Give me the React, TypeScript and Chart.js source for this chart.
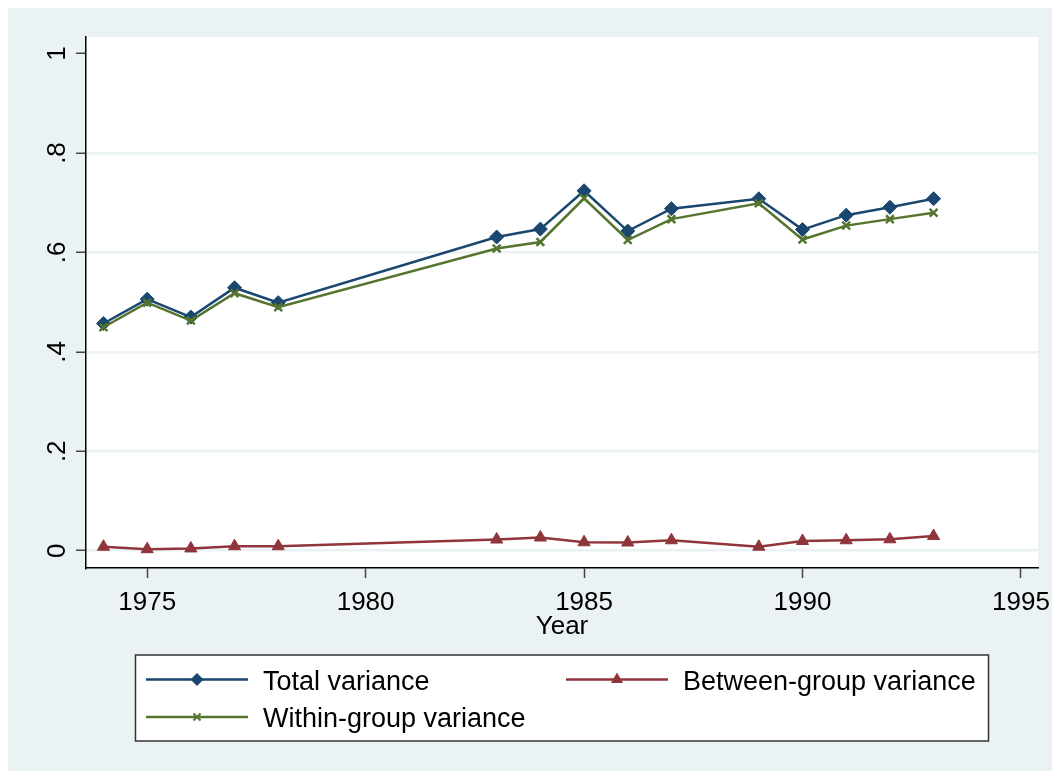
import React, { useEffect, useRef } from 'react';
import { Chart, registerables } from 'chart.js';

Chart.register(...registerables);

const YEARS = [1974, 1975, 1976, 1977, 1978, 1983, 1984, 1985, 1986, 1987, 1989, 1990, 1991, 1992, 1993];
const TOTAL = [0.457, 0.506, 0.470, 0.529, 0.499, 0.631, 0.647, 0.724, 0.643, 0.688, 0.708, 0.646, 0.675, 0.691, 0.708];
const BETWEEN = [0.008, 0.003, 0.0045, 0.009, 0.009, 0.0225, 0.0265, 0.017, 0.0165, 0.021, 0.008, 0.0195, 0.021, 0.023, 0.0295];
const WITHIN = [0.4495, 0.499, 0.463, 0.518, 0.490, 0.608, 0.621, 0.709, 0.625, 0.667, 0.699, 0.626, 0.654, 0.667, 0.680];

const X_TICKS = [1975, 1980, 1985, 1990, 1995];
const Y_TICKS = [0, 0.2, 0.4, 0.6, 0.8, 1];
const Y_TICK_LABELS = ['0', '.2', '.4', '.6', '.8', '1'];
const X_TITLE = 'Year';
const SERIES_LABELS = ['Total variance', 'Between-group variance', 'Within-group variance'];

const BLUE = '#1a476f';
const RED = '#90353b';
const GREEN = '#55752f';
const BG = '#eaf2f3';
const GRID = '#eaf2f3';
const FONT = '"Liberation Sans", Arial, Helvetica, sans-serif';
const W = 1060;
const H = 771;

function drawMarker(ctx: CanvasRenderingContext2D, style: string, x: number, y: number, r: number, color: string) {
  ctx.save();
  ctx.fillStyle = color;
  ctx.strokeStyle = color;
  ctx.beginPath();
  if (style === 'diamond') {
    ctx.moveTo(x, y - r);
    ctx.lineTo(x + r, y);
    ctx.lineTo(x, y + r);
    ctx.lineTo(x - r, y);
    ctx.closePath();
    ctx.fill();
  } else if (style === 'triangle') {
    ctx.moveTo(x, y - r);
    ctx.lineTo(x + r * 0.87, y + r * 0.5);
    ctx.lineTo(x - r * 0.87, y + r * 0.5);
    ctx.closePath();
    ctx.fill();
  } else {
    ctx.lineWidth = 2;
    const d = r * 0.707;
    ctx.moveTo(x - d, y - d);
    ctx.lineTo(x + d, y + d);
    ctx.moveTo(x + d, y - d);
    ctx.lineTo(x - d, y + d);
    ctx.stroke();
  }
  ctx.restore();
}

const customPlugin = {
  id: 'stataDecor',
  beforeDraw(chart: any) {
    const { ctx, chartArea } = chart;
    ctx.save();
    ctx.fillStyle = BG;
    ctx.fillRect(0, 0, chart.width, chart.height);
    ctx.fillStyle = '#ffffff';
    ctx.fillRect(chartArea.left, chartArea.top, chartArea.right - chartArea.left, chartArea.bottom - chartArea.top);
    ctx.restore();
  },
  afterDraw(chart: any) {
    const { ctx, chartArea } = chart;
    const xs = chart.scales.x;
    const ys = chart.scales.y;
    ctx.save();
    ctx.fillStyle = '#000';
    ctx.font = `26px ${FONT}`;
    // x tick labels
    ctx.textAlign = 'center';
    ctx.textBaseline = 'alphabetic';
    X_TICKS.forEach((v) => {
      ctx.fillText(String(v), xs.getPixelForValue(v), 601.5);
    });
    // x title
    ctx.fillText(X_TITLE, (chartArea.left + chartArea.right) / 2, 625.5);
    // y tick labels rotated
    Y_TICKS.forEach((v, i) => {
      ctx.save();
      ctx.translate(57, ys.getPixelForValue(v));
      ctx.rotate(-Math.PI / 2);
      ctx.textAlign = 'center';
      ctx.fillText(Y_TICK_LABELS[i], 0, 0);
      ctx.restore();
    });
    // legend
    const bx = 127.5, by = 647, bw = 853, bh = 86;
    ctx.fillStyle = '#ffffff';
    ctx.fillRect(bx, by, bw, bh);
    ctx.strokeStyle = '#333';
    ctx.lineWidth = 1.5;
    ctx.strokeRect(bx, by, bw, bh);
    const items = [
      { label: SERIES_LABELS[0], color: BLUE, style: 'diamond', r: 6.5, x1: 138, x2: 240, y: 671.5, tx: 255 },
      { label: SERIES_LABELS[1], color: RED, style: 'triangle', r: 7, x1: 558, x2: 660, y: 671.5, tx: 675 },
      { label: SERIES_LABELS[2], color: GREEN, style: 'cross', r: 5, x1: 138, x2: 240, y: 709, tx: 255 },
    ];
    items.forEach((it) => {
      ctx.strokeStyle = it.color;
      ctx.lineWidth = 2.5;
      ctx.beginPath();
      ctx.moveTo(it.x1, it.y);
      ctx.lineTo(it.x2, it.y);
      ctx.stroke();
      drawMarker(ctx, it.style, (it.x1 + it.x2) / 2, it.y, it.r, it.color);
      ctx.fillStyle = '#000';
      ctx.textAlign = 'left';
      ctx.textBaseline = 'alphabetic';
      ctx.font = `27px ${FONT}`;
      ctx.fillText(it.label, it.tx, it.y + 10);
    });
    ctx.restore();
  },
};

export default function App() {
  const ref = useRef<HTMLCanvasElement | null>(null);
  useEffect(() => {
    document.documentElement.style.overflow = 'hidden';
    document.body.style.overflow = 'hidden';
    const canvas = ref.current;
    if (!canvas) return;
    const toPts = (vals: number[]) => YEARS.map((x, i) => ({ x, y: vals[i] }));
    const chart = new Chart(canvas, {
      type: 'line',
      data: {
        datasets: [
          {
            label: SERIES_LABELS[0],
            data: toPts(TOTAL),
            borderColor: BLUE,
            backgroundColor: BLUE,
            borderWidth: 2.5,
            pointStyle: 'rectRot',
            pointRadius: 7,
            pointBorderWidth: 1,
            pointBorderColor: BLUE,
            pointBackgroundColor: BLUE,
            order: 2,
          },
          {
            label: SERIES_LABELS[1],
            data: toPts(BETWEEN),
            borderColor: RED,
            backgroundColor: RED,
            borderWidth: 2.5,
            pointStyle: 'triangle',
            pointRadius: 7,
            pointBorderWidth: 1,
            pointBorderColor: RED,
            pointBackgroundColor: RED,
            order: 1,
          },
          {
            label: SERIES_LABELS[2],
            data: toPts(WITHIN),
            borderColor: GREEN,
            backgroundColor: GREEN,
            borderWidth: 2.5,
            pointStyle: 'crossRot',
            pointRadius: 5.5,
            pointBorderWidth: 2.5,
            pointBorderColor: GREEN,
            order: 0,
          },
        ],
      } as any,
      options: {
        responsive: false,
        animation: false,
        events: [],
        layout: { padding: { left: 0, top: 29, right: 30, bottom: 0 } },
        plugins: { legend: { display: false }, tooltip: { enabled: false } },
        scales: {
          x: {
            type: 'linear',
            min: 1973.6,
            max: 1995.39,
            afterBuildTicks: (s: any) => {
              s.ticks = X_TICKS.map((v) => ({ value: v }));
            },
            afterFit: (s: any) => {
              s.height = 211;
            },
            grid: {
              drawOnChartArea: false,
              drawTicks: true,
              tickLength: 10,
              tickWidth: 1.5,
              tickColor: '#444',
            },
            border: { display: true, color: '#000', width: 1.5 },
            ticks: { display: false },
          },
          y: {
            type: 'linear',
            min: -0.0348,
            max: 1.0334,
            afterBuildTicks: (s: any) => {
              s.ticks = Y_TICKS.map((v) => ({ value: v }));
            },
            afterFit: (s: any) => {
              s.width = 78;
            },
            grid: {
              color: (c: any) => (c.tick && c.tick.value === 1 ? 'rgba(0,0,0,0)' : GRID),
              lineWidth: 2.5,
              drawTicks: true,
              tickLength: 10,
              tickWidth: 1.5,
              tickColor: '#444',
            },
            border: { display: true, color: '#000', width: 1.5 },
            ticks: { display: false },
          },
        },
      } as any,
      plugins: [customPlugin],
    });
    return () => chart.destroy();
  }, []);
  return <canvas ref={ref} width={W} height={H} style={{ display: 'block', width: W, height: H }} />;
}
